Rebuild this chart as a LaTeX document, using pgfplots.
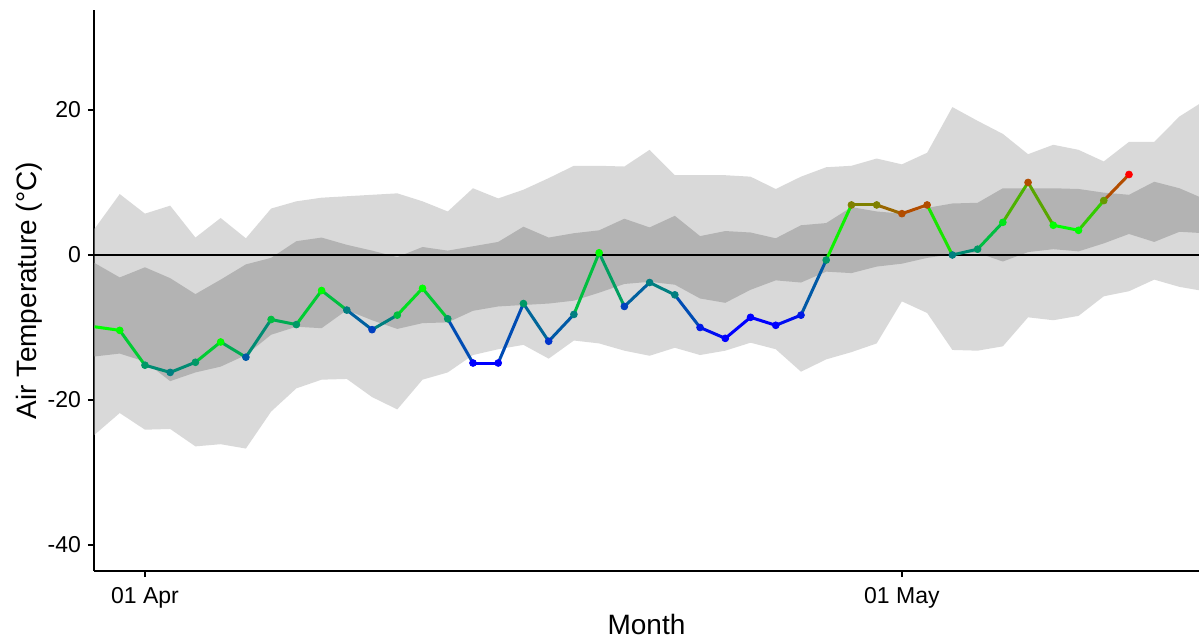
\documentclass[border=0pt]{standalone}
\usepackage{pgfplots}
\pgfplotsset{compat=1.18}
\usepackage{pgfplotstable}
\usepgfplotslibrary{fillbetween}
\usepackage{fontspec}
\setmainfont{Liberation Sans}
\definecolor{outerband}{RGB}{217,217,217}
\definecolor{innerband}{RGB}{179,179,179}

\pgfplotstableread{
d ou iu il ol
-2 3.6 -1.1 -14.0 -24.8
-1 8.4 -3.1 -13.6 -21.8
0 5.7 -1.7 -14.7 -24.1
1 6.8 -3.2 -17.4 -24.0
2 2.4 -5.4 -16.2 -26.4
3 5.1 -3.4 -15.4 -26.1
4 2.3 -1.3 -13.8 -26.7
5 6.4 -0.4 -11.0 -21.6
6 7.4 1.9 -9.9 -18.4
7 7.9 2.4 -10.1 -17.2
8 8.1 1.4 -7.6 -17.1
9 8.3 0.6 -9.0 -19.6
10 8.5 -0.3 -10.2 -21.3
11 7.4 1.1 -9.4 -17.2
12 6.0 0.6 -9.3 -16.2
13 9.2 1.2 -7.7 -13.8
14 7.8 1.8 -7.1 -13.0
15 9.0 3.9 -6.9 -12.4
16 10.6 2.4 -6.7 -14.3
17 12.3 3.0 -6.3 -11.8
18 12.3 3.4 -5.2 -12.2
19 12.2 5.0 -4.0 -13.2
20 14.5 3.8 -3.7 -13.9
21 11.0 5.4 -4.1 -12.8
22 11.0 2.6 -6.0 -13.8
23 11.0 3.3 -6.6 -13.2
24 10.8 3.1 -4.8 -12.1
25 9.1 2.3 -3.5 -13.0
26 10.8 4.1 -3.8 -16.1
27 12.1 4.4 -2.3 -14.4
28 12.3 6.6 -2.5 -13.4
29 13.3 6.0 -1.6 -12.2
30 12.5 5.7 -1.2 -6.4
31 14.1 6.5 -0.4 -8.0
32 20.4 7.1 0.1 -13.1
33 18.5 7.2 0.3 -13.2
34 16.7 9.2 -0.9 -12.6
35 13.9 9.2 0.4 -8.6
36 15.2 9.2 0.8 -9.0
37 14.5 9.1 0.5 -8.4
38 12.9 8.6 1.6 -5.7
39 15.6 8.3 2.9 -5.0
40 15.6 10.1 1.8 -3.4
41 19.1 9.2 3.2 -4.4
42 21.3 7.7 3.0 -5.0
}\bands

\pgfplotstableread{
d v c
-2 -9.9 1.0
-1 -10.4 1.0
0 -15.2 0.6
1 -16.2 0.5
2 -14.8 0.6
3 -12.0 1.0
4 -14.1 0.35
5 -8.9 0.75
6 -9.6 0.6
7 -4.9 1.0
8 -7.6 0.5
9 -10.3 0.25
10 -8.3 0.75
11 -4.6 1.0
12 -8.8 0.6
13 -14.9 0.0
14 -14.9 0.0
15 -6.7 0.6
16 -11.9 0.2
17 -8.2 0.5
18 0.3 1.0
19 -7.1 0.25
20 -3.8 0.5
21 -5.5 0.5
22 -10.0 0.1
23 -11.5 0.0
24 -8.6 0.0
25 -9.7 0.0
26 -8.3 0.1
27 -0.7 0.6
28 6.9 1.5
29 6.9 1.5
30 5.7 1.7
31 6.9 1.7
32 0.0 0.5
33 0.8 0.6
34 4.5 0.9
35 10.0 1.7
36 4.1 1.0
37 3.4 1.0
38 7.5 1.4
39 11.1 2.0
}\temps

\begin{document}
\begin{tikzpicture}
\begin{axis}[
  name=ax,
  scale only axis,
  width=552.5pt, height=280.5pt,
  xmin=-2.02, xmax=41.775,
  ymin=-43.59, ymax=33.79,
  axis x line*=bottom, axis y line*=left,
  axis line style={line width=1.1pt, black},
  tick align=outside,
  major tick length=3pt,
  every tick/.style={black, line width=1.1pt},
  xtick={0,30}, xticklabels={01 Apr, 01 May},
  ytick={-40,-20,0,20}, yticklabels={-40,-20,0,20},
  tick label style={font=\fontsize{11.5}{13}\selectfont, black},
  xticklabel style={yshift=-1.5pt},
  label style={font=\fontsize{14}{16}\selectfont, black},
  xlabel={Month}, ylabel={Air Temperature (°C)},
  xlabel style={yshift=3.5pt},
  ylabel style={yshift=-4pt},
  colormap={tempmap}{rgb255(0)=(0,0,255) rgb255(1)=(0,255,0) rgb255(2)=(255,0,0)},
  point meta min=0, point meta max=2,
  clip=true,
]
\addplot[name path=ou, draw=none, forget plot] table[x=d, y=ou]{\bands};
\addplot[name path=ol, draw=none, forget plot] table[x=d, y=ol]{\bands};
\addplot[name path=iu, draw=none, forget plot] table[x=d, y=iu]{\bands};
\addplot[name path=il, draw=none, forget plot] table[x=d, y=il]{\bands};
\addplot[fill=outerband, draw=none] fill between[of=ou and ol];
\addplot[fill=innerband, draw=none] fill between[of=iu and il];
\addplot[black, line width=1.4pt] coordinates {(-3,0) (43,0)};
\addplot[mesh, point meta=explicit, line width=1.5pt] table[x=d, y=v, meta=c]{\temps};
\addplot[scatter, only marks, mark=*, mark size=1.7pt, scatter src=explicit,
  skip coords between index={0}{1},
  scatter/use mapped color={draw=mapped color, fill=mapped color}] table[x=d, y=v, meta=c]{\temps};
\end{axis}
\pgfresetboundingbox
\path ([xshift=-47pt,yshift=-34pt]ax.south west) rectangle ([yshift=5pt]ax.north east);
\end{tikzpicture}
\end{document}
